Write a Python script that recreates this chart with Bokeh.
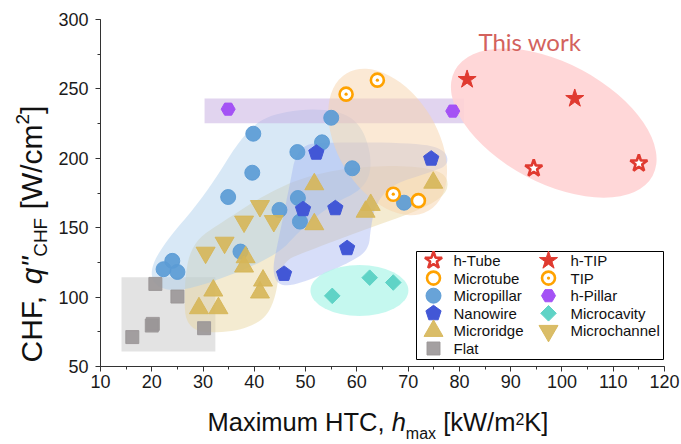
import math
from bokeh.plotting import figure
from bokeh.models import Range1d, SingleIntervalTicker, Label
from bokeh.embed import file_html
from bokeh.resources import INLINE
from bokeh.core.properties import value

# ---------------- data ----------------
htube_x = [94.5, 115.0]
htube_y = [192.8, 196.4]
htip_x = [81.5, 102.5]
htip_y = [256.8, 243.1]
microtube_x = [72.0]
microtube_y = [169.5]
tip_x = [57.9, 64.0, 67.1]
tip_y = [246.2, 256.3, 174.1]
micropillar_x = [55.0, 39.8, 53.2, 48.4, 59.1, 39.6, 34.9, 48.5, 44.9, 48.9, 69.2, 37.3, 24.0, 22.3, 25.0]
micropillar_y = [229.2, 217.7, 211.5, 204.5, 192.8, 189.6, 172.1, 171.4, 162.8, 154.4, 168.0, 132.8, 126.1, 120.1, 118.1]
hpillar_x = [34.9, 78.7]
hpillar_y = [235.4, 234.0]
nanowire_x = [52.1, 74.5, 55.8, 49.5, 58.1, 45.8]
nanowire_y = [204.0, 199.7, 164.0, 163.3, 135.2, 116.7]
microcavity_x = [55.2, 62.5, 67.1]
microcavity_y = [100.9, 114.0, 110.5]
microridge_x = [51.7, 74.9, 62.7, 61.7, 51.7, 38.3, 38.0, 41.7, 41.1, 32.0, 29.2, 33.0]
microridge_y = [181.3, 182.4, 166.4, 161.5, 152.5, 128.7, 122.0, 111.9, 103.3, 104.7, 92.0, 92.0]
microchannel_x = [41.1, 38.0, 43.8, 34.2, 30.5]
microchannel_y = [165.6, 154.4, 154.8, 139.2, 132.0]
flat_x = [20.7, 25.0, 20.2, 20.0, 30.2, 16.2]
flat_y = [109.5, 100.4, 80.7, 79.5, 77.6, 71.2]

# shaded groups (outlines in data units)
micropillar_zone_x = [19.4, 21.3, 30.5, 38.3, 44.1, 54.9, 60.7, 63.1, 61.7, 54.9, 49.0, 44.1, 29.5, 22.7]
micropillar_zone_y = [113.8, 134.0, 173.6, 220.3, 233.3, 236.2, 226.1, 198.7, 178.6, 166.4, 148.4, 128.9, 107.4, 103.8]
nanowire_zone_x = [48.4, 54.9, 72.4, 77.3, 77.9, 74.4, 66.6, 63.6, 62.7, 62.3, 58.8, 51.0, 45.1, 43.4, 44.7, 46.7]
nanowire_zone_y = [209.5, 211.7, 211.0, 205.9, 195.1, 190.1, 180.8, 166.4, 149.8, 134.0, 125.3, 112.4, 106.6, 118.1, 141.2, 177.2]
microridge_zone_x = [26.8, 35.4, 41.6, 44.1, 45.1, 51.0, 61.3, 72.4, 77.3, 77.9, 75.9, 68.5, 57.8, 49.0, 41.6, 34.4, 27.6, 26.2]
microridge_zone_y = [75.0, 74.3, 82.2, 98.0, 125.3, 134.0, 148.4, 162.8, 173.6, 184.4, 191.6, 195.1, 193.0, 185.8, 172.8, 155.6, 139.0, 105.2]
hpillar_zone = dict(left=30.3, right=80.9, bottom=225.2, top=243.1)
flat_zone = dict(left=14.1, right=32.4, bottom=60.8, top=114.3)
tip_zone = dict(x=66.0, y=211.7, w=31.2, h=72.0, angle=-59)
microcavity_zone = dict(x=60.5, y=104.8, w=19.1, h=36.7, angle=0)
thiswork_zone = dict(x=98.4, y=225.4, w=43.7, h=86.4, angle=-28)

x_start, x_end, x_step = 10, 120, 10
y_start, y_end, y_step = 50, 300, 50

# ---------------- layout ----------------
CANVAS_W, CANVAS_H = 680, 443
AXIS_L, AXIS_T = 100, 19          # page pixel of (x_start, y_end)
AXIS_W, AXIS_H = 564, 347         # pixel length of the axes
SX = AXIS_W / (x_end - x_start)
SY = AXIS_H / (y_end - y_start)
BASE_SHIFT = 0.40                 # label anchor correction (em)


def dx(px):
    return x_start + (px - AXIS_L) / SX


def dy(py):
    return y_end - (py - AXIS_T) / SY


RED = "#e03a30"
ORANGE = "#ffa200"
BLUE = "#5b9bd5"
NAVY = "#4257d6"
PURPLE = "#a452f5"
TEAL = "#5fd3c6"
GOLD = "#d6b658"
GRAY = "#9a9697"

p = figure(width=CANVAS_W, height=CANVAS_H,
           x_range=Range1d(dx(0), dx(CANVAS_W)),
           y_range=Range1d(dy(CANVAS_H), dy(0)),
           output_backend="svg", toolbar_location=None, title=None, min_border=0)
p.grid.visible = False
p.outline_line_color = None
p.background_fill_color = "white"
p.border_fill_color = "white"

p.xaxis.ticker = SingleIntervalTicker(interval=x_step, num_minor_ticks=2)
p.yaxis.ticker = SingleIntervalTicker(interval=y_step, num_minor_ticks=2)
p.xaxis.fixed_location = y_start
p.yaxis.fixed_location = x_start
p.xaxis.bounds = (x_start, x_end)
p.yaxis.bounds = (y_start, y_end)
for ax in (p.xaxis[0], p.yaxis[0]):
    ax.axis_line_color = "#333333"
    ax.major_tick_line_color = "#333333"
    ax.minor_tick_line_color = "#333333"
    ax.major_tick_out = 5
    ax.major_tick_in = 0
    ax.minor_tick_out = 3
    ax.minor_tick_in = 0
    ax.major_label_text_font = "Liberation Sans"
    ax.major_label_text_font_size = "18px"
    ax.major_label_text_color = "#1a1a1a"
p.xaxis.major_label_standoff = 3
p.yaxis.major_label_standoff = 7


def chaikin(xs, ys, n=3):
    pts = list(zip(xs, ys))
    for _ in range(n):
        new = []
        m = len(pts)
        for i in range(m):
            a = pts[i]
            b = pts[(i + 1) % m]
            new.append((0.75 * a[0] + 0.25 * b[0], 0.75 * a[1] + 0.25 * b[1]))
            new.append((0.25 * a[0] + 0.75 * b[0], 0.25 * a[1] + 0.75 * b[1]))
        pts = new
    return [q[0] for q in pts], [q[1] for q in pts]


# ---------------- shaded groups ----------------
p.quad(**flat_zone, fill_color="#d4d4d4", fill_alpha=0.65, line_color=None)
zx, zy = chaikin(microridge_zone_x, microridge_zone_y)
p.patch(zx, zy, fill_color="#e6d29a", fill_alpha=0.45, line_color=None)
zx, zy = chaikin(micropillar_zone_x, micropillar_zone_y)
p.patch(zx, zy, fill_color="#a9cbeb", fill_alpha=0.45, line_color=None)
zx, zy = chaikin(nanowire_zone_x, nanowire_zone_y)
p.patch(zx, zy, fill_color="#9fb0f0", fill_alpha=0.42, line_color=None)
p.quad(**hpillar_zone, fill_color="#c4a9df", fill_alpha=0.5, line_color=None)
for z, col, al in ((tip_zone, "#f8d4ac", 0.5), (microcavity_zone, "#b2f5ea", 0.75),
                   (thiswork_zone, "#ffd3d4", 0.9)):
    p.ellipse(x=[z["x"]], y=[z["y"]], width=[z["w"]], height=[z["h"]], angle=[z["angle"]],
              angle_units="deg", fill_color=col, fill_alpha=al, line_color=None)

# ---------------- markers ----------------
STY = {
    "h-Tube": dict(marker="star", size=18, fill_color="white", line_color=RED, line_width=2.6),
    "h-TIP": dict(marker="star", size=19, fill_color=RED, line_color=RED, line_width=1),
    "Microtube": dict(marker="circle", size=13, fill_color="white", line_color=ORANGE, line_width=2.6),
    "TIP": dict(marker="circle_dot", size=13, fill_color="white", line_color=ORANGE, line_width=2.6),
    "Micropillar": dict(marker="circle", size=15, fill_color=BLUE, line_color=BLUE, fill_alpha=0.92, line_alpha=0.92),
    "h-Pillar": dict(marker="hex", size=14, fill_color=PURPLE, line_color=PURPLE),
    "Microcavity": dict(marker="square", size=11, angle=math.pi / 4, fill_color=TEAL, line_color=TEAL),
    "Microridge": dict(marker="triangle", size=19, fill_color=GOLD, line_color=GOLD, fill_alpha=0.9, line_alpha=0.9),
    "Microchannel": dict(marker="inverted_triangle", size=19, fill_color=GOLD, line_color=GOLD, fill_alpha=0.9, line_alpha=0.9),
    "Flat": dict(marker="square", size=13, fill_color=GRAY, line_color=GRAY, fill_alpha=0.9, line_alpha=0.9),
}
PENT_R = 8


def draw(name, xs, ys):
    if name == "Nanowire":
        PX, PY = [], []
        for x, y in zip(xs, ys):
            PX.append([x + PENT_R * math.sin(2 * math.pi * k / 5) / SX for k in range(5)])
            PY.append([y + PENT_R * math.cos(2 * math.pi * k / 5) / SY for k in range(5)])
        p.patches(PX, PY, fill_color=NAVY, line_color=NAVY, line_width=1)
    else:
        p.scatter(x=xs, y=ys, **STY[name])


series = [
    ("Flat", flat_x, flat_y),
    ("Microcavity", microcavity_x, microcavity_y),
    ("Micropillar", micropillar_x, micropillar_y),
    ("Microchannel", microchannel_x, microchannel_y),
    ("Microridge", microridge_x, microridge_y),
    ("Nanowire", nanowire_x, nanowire_y),
    ("h-Pillar", hpillar_x, hpillar_y),
    ("TIP", tip_x, tip_y),
    ("Microtube", microtube_x, microtube_y),
    ("h-TIP", htip_x, htip_y),
    ("h-Tube", htube_x, htube_y),
]
for name, xs, ys in series:
    draw(name, xs, ys)

# ---------------- legend (drawn by hand for full-size markers) ----------------
legend_col1 = ["h-Tube", "Microtube", "Micropillar", "Nanowire", "Microridge", "Flat"]
legend_col2 = ["h-TIP", "TIP", "h-Pillar", "Microcavity", "Microchannel"]
LEG_L, LEG_T, LEG_R, LEG_B = 416, 251, 663, 359
ROW0, ROWH = 260, 17.6
COLS = [(433, 453, legend_col1), (548, 570, legend_col2)]
p.quad(left=dx(LEG_L), right=dx(LEG_R), top=dy(LEG_T), bottom=dy(LEG_B),
       fill_color="white", line_color="black", line_width=1)
tx, ty, tt = [], [], []
for mx, lx, names in COLS:
    for i, nm in enumerate(names):
        yy = dy(ROW0 + i * ROWH)
        draw(nm, [dx(mx)], [yy])
        tx.append(dx(lx))
        ty.append(yy)
        tt.append(nm)
p.text(x=tx, y=ty, text=tt, text_font=value("Liberation Sans"), text_font_size="15px",
       text_baseline="middle", text_align="left", text_color="#111111")

# ---------------- texts ----------------
p.add_layout(Label(x=dx(478), y=dy(51 - BASE_SHIFT * 24), text="This work", text_font="Lato",
                   text_font_size="24px", text_color="#d3625d", text_baseline="alphabetic"))

ARIAL = {'C': .722, 'H': .722, 'F': .611, ',': .278, ' ': .278, '[': .278, 'W': .944, '/': .278,
         'c': .5, 'm': .833, ']': .278, '2': .556, '"': .355, 'M': .833, 'a': .556, 'x': .5,
         'i': .222, 'u': .556, 'T': .611, 'k': .5, 'K': .667, 'q': .556, 'h': .556}


def tw(s, size):
    return sum(ARIAL[c] for c in s) * size


def lab(text, px, py, size, style, angle=0):
    p.add_layout(Label(x=dx(px), y=dy(py), text=text, text_font="Liberation Sans",
                       text_font_size=f"{size}px", text_font_style=style, text_color="#111111",
                       angle=angle, angle_units="deg", text_align="left",
                       text_baseline="alphabetic"))


# x axis title
xparts = [("Maximum HTC,", 25.5, "normal", 0), (" ", 25.5, None, 0), ("h", 25.5, "italic", 0),
          ("max", 16, "normal", 7), (" ", 25.5, None, 0), ("[kW/m", 25.5, "normal", 0),
          ("2", 16, "normal", -7.5), ("K]", 25.5, "normal", 0)]
cx = 207
for t, s, st, off in xparts:
    if st is not None:
        lab(t, cx, 432 + off - BASE_SHIFT * s, s, st)
    cx += tw(t, s)

# y axis title (rotated)
yparts = [("CHF,", 30, "normal", 0), (" ", 30, None, 0), ('q"', 30, "italic", 0),
          ("CHF", 19, "normal", 5), (" ", 30, None, 0), ("[W/cm", 30, "normal", 0),
          ("2", 19, "normal", -13), ("]", 30, "normal", 0)]
cy = 362
for t, s, st, off in yparts:
    if st is not None:
        lab(t, 43 + off - BASE_SHIFT * s, cy, s, st, angle=90)
    cy -= tw(t, s)

open("out.html", "w").write(file_html(p, INLINE))
